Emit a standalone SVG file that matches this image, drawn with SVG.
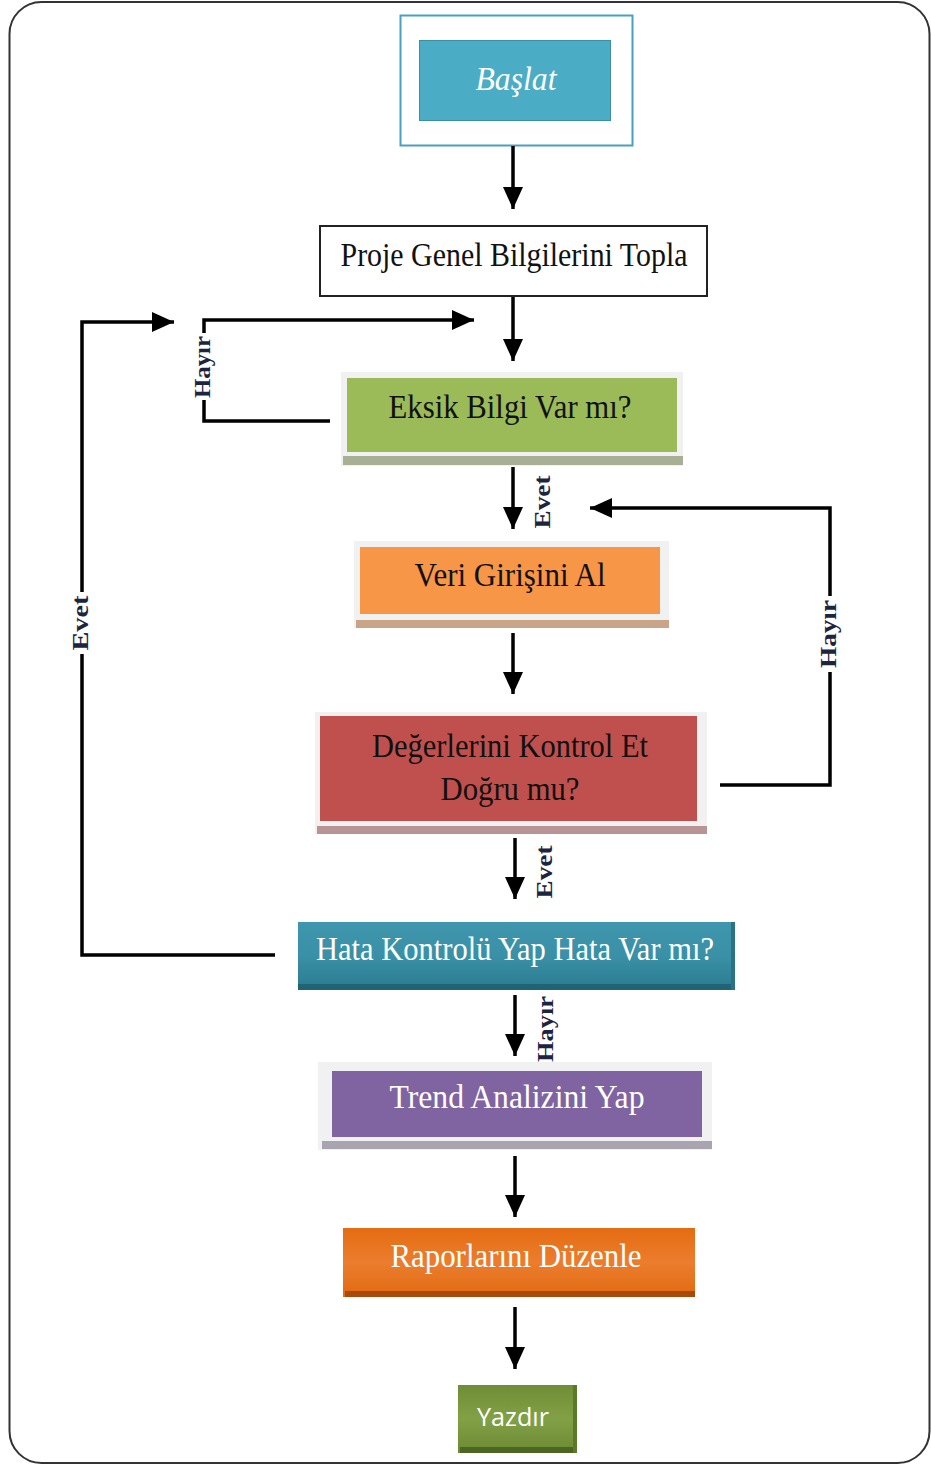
<svg xmlns="http://www.w3.org/2000/svg" width="931" height="1465" viewBox="0 0 931 1465">
<defs>
<marker id="ah" markerUnits="userSpaceOnUse" markerWidth="24" markerHeight="20" refX="22" refY="10" orient="auto">
<path d="M0,0 L22,10 L0,20 z" fill="#000"/>
</marker>
<linearGradient id="gHata" x1="0" y1="0" x2="0" y2="1">
<stop offset="0" stop-color="#3f97ad"/><stop offset="0.5" stop-color="#3a90a6"/><stop offset="1" stop-color="#2b7b90"/>
</linearGradient>
<linearGradient id="gRap" x1="0" y1="0" x2="0" y2="1">
<stop offset="0" stop-color="#e46c12"/><stop offset="0.5" stop-color="#ec7d2e"/><stop offset="1" stop-color="#e06a10"/>
</linearGradient>
<linearGradient id="gYaz" x1="0" y1="0" x2="0" y2="1">
<stop offset="0" stop-color="#6f8d36"/><stop offset="0.5" stop-color="#82a045"/><stop offset="1" stop-color="#6c8a34"/>
</linearGradient>
</defs>
<style>
.t{font-family:"Liberation Serif","Times New Roman",serif;font-size:33px;text-anchor:middle;fill:#111}
.w{fill:#fff}
.lbl{font-family:"Liberation Serif","Times New Roman",serif;font-size:23px;font-weight:bold;text-anchor:middle;fill:#1c2440}
.c{fill:none;stroke:#000;stroke-width:3.5}
.ca{fill:none;stroke:#000;stroke-width:3.5;marker-end:url(#ah)}
.halo{fill:#f1f1f1}
</style>
<rect x="9.5" y="2" width="920" height="1461" rx="32" fill="#fff" stroke="#333" stroke-width="2"/>

<g id="baslat">
<rect x="400.5" y="15.5" width="232" height="130" fill="#fff" stroke="#4a9fc0" stroke-width="2"/>
<rect x="419.5" y="40.5" width="191" height="80" fill="#4bacc6" stroke="#3c8ea6" stroke-width="1"/>
<text class="t w" x="516" y="90" font-style="italic" textLength="81" lengthAdjust="spacingAndGlyphs">Başlat</text>
</g>

<g id="proje">
<rect x="320" y="226" width="387" height="70" fill="#fff" stroke="#222" stroke-width="2"/>
<text class="t" x="514" y="266" textLength="347" lengthAdjust="spacingAndGlyphs">Proje Genel Bilgilerini Topla</text>
</g>

<g id="eksik">
<rect x="341" y="372" width="342" height="94" class="halo"/>
<rect x="343" y="456" width="340" height="9" fill="#a7b094"/>
<rect x="347" y="378" width="330" height="74" fill="#9bbb59"/>
<text class="t" x="510" y="418" textLength="243" lengthAdjust="spacingAndGlyphs">Eksik Bilgi Var mı?</text>
</g>

<g id="veri">
<rect x="354" y="541" width="315" height="87" class="halo"/>
<rect x="356" y="620" width="313" height="8" fill="#c9a487"/>
<rect x="360" y="547" width="300" height="67" fill="#f79646"/>
<text class="t" x="510" y="586" textLength="191" lengthAdjust="spacingAndGlyphs">Veri Girişini Al</text>
</g>

<g id="degerler">
<rect x="315" y="712" width="392" height="122" class="halo"/>
<rect x="317" y="826" width="390" height="8" fill="#b89494"/>
<rect x="320" y="716" width="377" height="105" fill="#c0504d"/>
<text class="t" x="510" y="757" textLength="276" lengthAdjust="spacingAndGlyphs">Değerlerini Kontrol Et</text>
<text class="t" x="510" y="800" textLength="139" lengthAdjust="spacingAndGlyphs">Doğru mu?</text>
</g>

<g id="hata">
<rect x="298" y="922" width="437" height="68" fill="url(#gHata)"/>
<rect x="298" y="984" width="437" height="6" fill="#1f6374"/>
<rect x="731" y="922" width="4" height="68" fill="#2a7384"/>
<text class="t w" x="515" y="960" textLength="398" lengthAdjust="spacingAndGlyphs">Hata Kontrolü Yap Hata Var mı?</text>
</g>

<g id="trend">
<rect x="318" y="1062" width="394" height="88" class="halo"/>
<rect x="322" y="1141" width="390" height="8" fill="#a9a5b0"/>
<rect x="332" y="1071" width="370" height="66" fill="#8064a2"/>
<text class="t w" x="517" y="1108" textLength="255" lengthAdjust="spacingAndGlyphs">Trend Analizini Yap</text>
</g>

<g id="raporlar">
<rect x="343" y="1228" width="352" height="69" fill="url(#gRap)"/>
<rect x="345" y="1291" width="350" height="6" fill="#a84a0c"/>
<text class="t w" x="516" y="1267" textLength="251" lengthAdjust="spacingAndGlyphs">Raporlarını Düzenle</text>
</g>

<g id="yazdir">
<rect x="458" y="1385" width="119" height="68" fill="url(#gYaz)"/>
<rect x="460" y="1447" width="117" height="6" fill="#4b6522"/>
<rect x="573" y="1385" width="4" height="68" fill="#5a7a2a"/>
<text x="513" y="1426" font-family="'Open Sans','Liberation Sans',sans-serif" font-size="26" fill="#fff" text-anchor="middle" textLength="72" lengthAdjust="spacingAndGlyphs">Yazdır</text>
</g>

<g id="connectors">
<line class="ca" x1="513" y1="146" x2="513" y2="209"/>
<line class="ca" x1="513" y1="297" x2="513" y2="361"/>
<polyline class="c" points="330,421 204,421 204,400"/>
<polyline class="ca" points="204,333 204,320 474,320"/>
<polyline class="c" points="275,955 82,955 82,654"/>
<polyline class="ca" points="82,592 82,322 174,322"/>
<line class="ca" x1="513" y1="467" x2="513" y2="529"/>
<polyline class="c" points="720,785 830,785 830,672"/>
<polyline class="ca" points="830,596 830,508 590,508"/>
<line class="ca" x1="513" y1="633" x2="513" y2="694"/>
<line class="ca" x1="515" y1="838" x2="515" y2="899"/>
<line class="ca" x1="515" y1="995" x2="515" y2="1056"/>
<line class="ca" x1="515" y1="1156" x2="515" y2="1217"/>
<line class="ca" x1="515" y1="1307" x2="515" y2="1369"/>
<text class="lbl" transform="translate(210,367) rotate(-90)" textLength="62" lengthAdjust="spacingAndGlyphs">Hayır</text>
<text class="lbl" transform="translate(88,623) rotate(-90)" textLength="55" lengthAdjust="spacingAndGlyphs">Evet</text>
<text class="lbl" transform="translate(550,502) rotate(-90)" textLength="53" lengthAdjust="spacingAndGlyphs">Evet</text>
<text class="lbl" transform="translate(836,634) rotate(-90)" textLength="68" lengthAdjust="spacingAndGlyphs">Hayır</text>
<text class="lbl" transform="translate(552,872) rotate(-90)" textLength="53" lengthAdjust="spacingAndGlyphs">Evet</text>
<text class="lbl" transform="translate(553,1029) rotate(-90)" textLength="66" lengthAdjust="spacingAndGlyphs">Hayır</text>
</g>
</svg>
